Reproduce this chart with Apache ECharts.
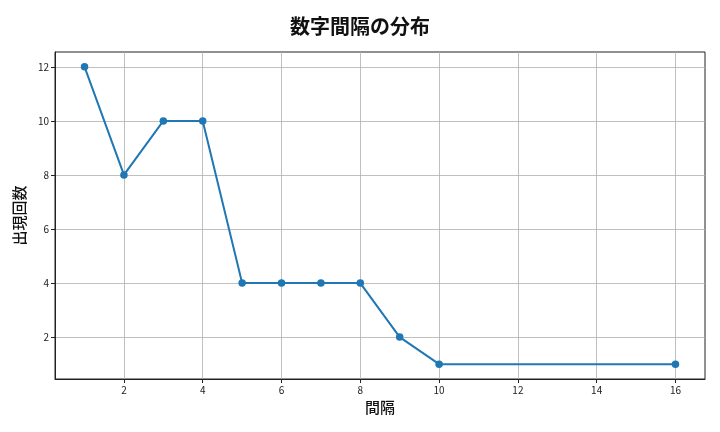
<!DOCTYPE html>
<html><head><meta charset="utf-8">
<script src="https://cdn.jsdelivr.net/npm/echarts@6/dist/echarts.min.js"></script>
<style>html,body{margin:0;padding:0;background:#fff}#c{width:720px;height:432px}</style>
</head><body><div id="c"></div>
<script>
const intervals = [1, 2, 3, 4, 5, 6, 7, 8, 9, 10, 16];
const counts = [12, 8, 10, 10, 4, 4, 4, 4, 2, 1, 1];
const xTicks = [2, 4, 6, 8, 10, 12, 14, 16];
const yTicks = [2, 4, 6, 8, 10, 12];
const font = '"Noto Sans CJK JP", "Noto Sans", sans-serif';
const chart = echarts.init(document.getElementById('c'));
chart.setOption({
  animation: false,
  backgroundColor: '#fff',
  title: { text: '数字間隔の分布', left: 'center', top: 11,
    textStyle: { fontFamily: font, fontSize: 20, fontWeight: 'bold', color: '#111' } },
  grid: { left: 55, right: 15, top: 52, bottom: 53, show: true, borderColor: '#222', borderWidth: 1 },
  xAxis: { type: 'value', min: 0.25, max: 16.75,
    name: '間隔', nameLocation: 'middle', nameGap: 20,
    nameTextStyle: { fontFamily: font, fontSize: 15, fontWeight: 500, color: '#111' },
    axisLine: { show: true, lineStyle: { color: '#222' } },
    axisTick: { show: true, length: 4, lineStyle: { color: '#222' }, customValues: xTicks },
    axisLabel: { customValues: xTicks, fontFamily: font, fontSize: 10, color: '#222', margin: 6 },
    splitLine: { show: true, lineStyle: { color: '#b0b0b0', width: 0.8 } } },
  yAxis: { type: 'value', min: 0.45, max: 12.55,
    name: '出現回数', nameLocation: 'middle', nameGap: 26,
    nameTextStyle: { fontFamily: font, fontSize: 15, fontWeight: 500, color: '#111' },
    axisLine: { show: true, lineStyle: { color: '#222' } },
    axisTick: { show: true, length: 4, lineStyle: { color: '#222' }, customValues: yTicks },
    axisLabel: { customValues: yTicks, fontFamily: font, fontSize: 10, color: '#222', margin: 6 },
    splitLine: { show: true, lineStyle: { color: '#b0b0b0', width: 0.8 } } },
  series: [{ type: 'line', data: intervals.map((x, i) => [x, counts[i]]),
    symbol: 'circle', symbolSize: 7.5,
    lineStyle: { color: '#1f77b4', width: 2 },
    itemStyle: { color: '#1f77b4' } }]
});
</script></body></html>
